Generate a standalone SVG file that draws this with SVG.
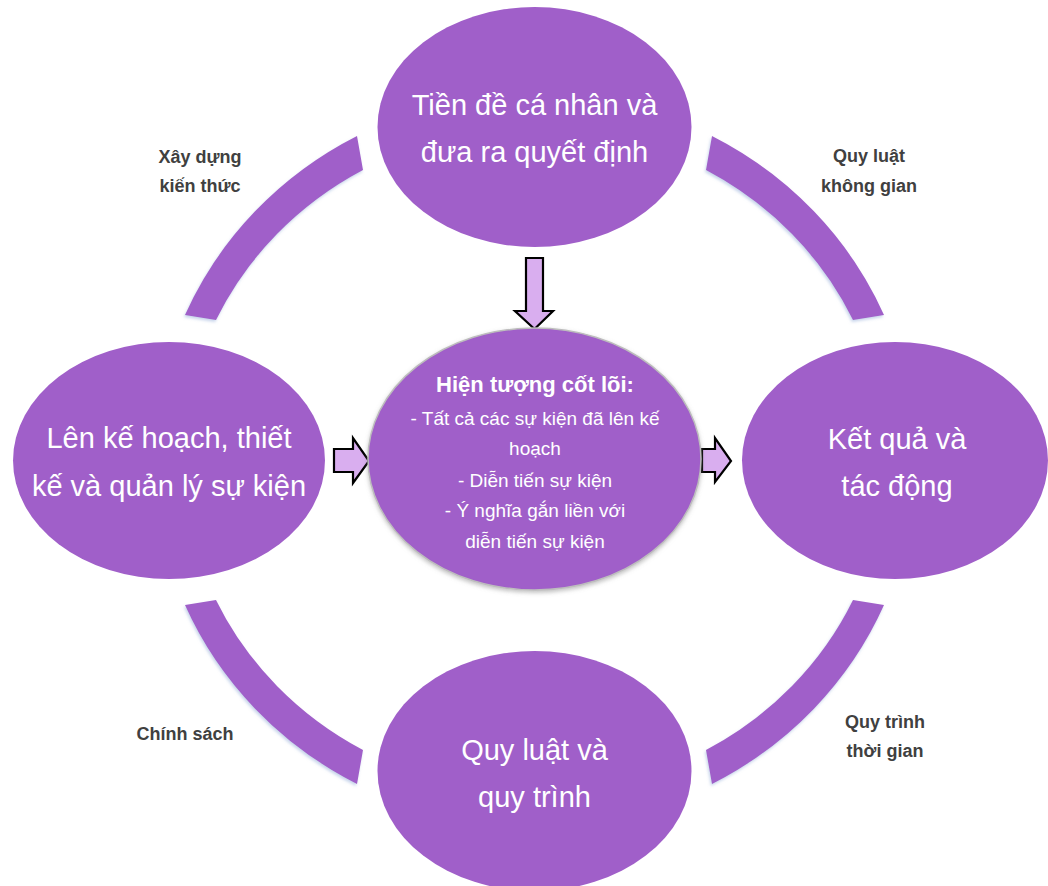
<svg xmlns="http://www.w3.org/2000/svg" width="1048" height="886" viewBox="0 0 1048 886">
  <style>
    .node { fill: #A05FC9; }
    .ring { fill: #A05FC9; filter: url(#sh); }
    .big { font-family: "Liberation Sans", Arial, sans-serif; font-size: 29px; fill: #ffffff; text-anchor: middle; }
    .mid { font-family: "Liberation Sans", Arial, sans-serif; font-size: 19px; fill: #ffffff; text-anchor: middle; }
    .title { font-family: "Liberation Sans", Arial, sans-serif; font-size: 22px; font-weight: bold; fill: #ffffff; text-anchor: middle; }
    .lbl { font-family: "Liberation Sans", Arial, sans-serif; font-size: 18px; font-weight: bold; fill: #404040; text-anchor: middle; }
    .arrow { fill: #D9AEEF; stroke: #000000; stroke-width: 2.2; stroke-linejoin: miter; }
  </style>
  <defs>
    <filter id="sh" x="-10%" y="-10%" width="120%" height="120%">
      <feDropShadow dx="-1" dy="2" stdDeviation="1.5" flood-color="#8FA9D6" flood-opacity="0.5"/>
    </filter>
    <filter id="csh" x="-10%" y="-10%" width="120%" height="120%">
      <feDropShadow dx="0" dy="2" stdDeviation="2" flood-color="#808080" flood-opacity="0.5"/>
    </filter>
  </defs>
  <rect width="1048" height="886" fill="#ffffff"/>

  <g id="connectors">
    <path class="ring" d="M185,315 A381,366 0 0 1 357,136 L363,170 A351,332 0 0 0 216,320 Z"/>
    <path class="ring" d="M884,315 A381,366 0 0 0 712,136 L706,170 A351,332 0 0 1 853,320 Z"/>
    <path class="ring" d="M185,605 A381,366 0 0 0 357,784 L363,750 A351,332 0 0 1 216,600 Z"/>
    <path class="ring" d="M884,605 A381,366 0 0 1 712,784 L706,750 A351,332 0 0 0 853,600 Z"/>
    <polygon class="arrow" points="526,258 543,258 543,311 553,311 534.5,329 515,311 526,311"/>
    <polygon class="arrow" points="334,449 353,449 353,438 369,461 353,483 353,472 334,472"/>
    <polygon class="arrow" points="702,449 715,449 715,438 731,461 715,482 715,472 702,472"/>
  </g>

  <g id="label-xay-dung">
    <text class="lbl" x="200" y="163">Xây dựng</text>
    <text class="lbl" x="200" y="192">kiến thức</text>
  </g>
  <g id="label-quy-luat-khong-gian">
    <text class="lbl" x="869" y="162">Quy luật</text>
    <text class="lbl" x="869" y="192">không gian</text>
  </g>
  <g id="label-chinh-sach">
    <text class="lbl" x="185" y="740">Chính sách</text>
  </g>
  <g id="label-quy-trinh-thoi-gian">
    <text class="lbl" x="885" y="728">Quy trình</text>
    <text class="lbl" x="885" y="757">thời gian</text>
  </g>

  <g id="node-top">
    <ellipse class="node" cx="534.5" cy="127" rx="157" ry="120"/>
    <text class="big" x="534.5" y="115">Tiền đề cá nhân và</text>
    <text class="big" x="534.5" y="162">đưa ra quyết định</text>
  </g>
  <g id="node-left">
    <ellipse class="node" cx="169" cy="460.5" rx="156" ry="118.5"/>
    <text class="big" x="169" y="448">Lên kế hoạch, thiết</text>
    <text class="big" x="169" y="496">kế và quản lý sự kiện</text>
  </g>
  <g id="node-right">
    <ellipse class="node" cx="895" cy="460.5" rx="153" ry="118.5"/>
    <text class="big" x="897" y="449">Kết quả và</text>
    <text class="big" x="897" y="496">tác động</text>
  </g>
  <g id="node-bottom">
    <ellipse class="node" cx="534.5" cy="771" rx="157" ry="120"/>
    <text class="big" x="534.5" y="760">Quy luật và</text>
    <text class="big" x="534.5" y="807">quy trình</text>
  </g>
  <g id="node-center">
    <ellipse class="node" cx="534.5" cy="459" rx="166.5" ry="131" stroke="#BDBDBD" stroke-width="1.5" filter="url(#csh)"/>
    <text class="title" x="535" y="392">Hiện tượng cốt lõi:</text>
    <text class="mid" x="535" y="425">- Tất cả các sự kiện đã lên kế</text>
    <text class="mid" x="535" y="455">hoạch</text>
    <text class="mid" x="535" y="487">- Diễn tiến sự kiện</text>
    <text class="mid" x="535" y="517">- Ý nghĩa gắn liền với</text>
    <text class="mid" x="535" y="548">diễn tiến sự kiện</text>
  </g>
</svg>
